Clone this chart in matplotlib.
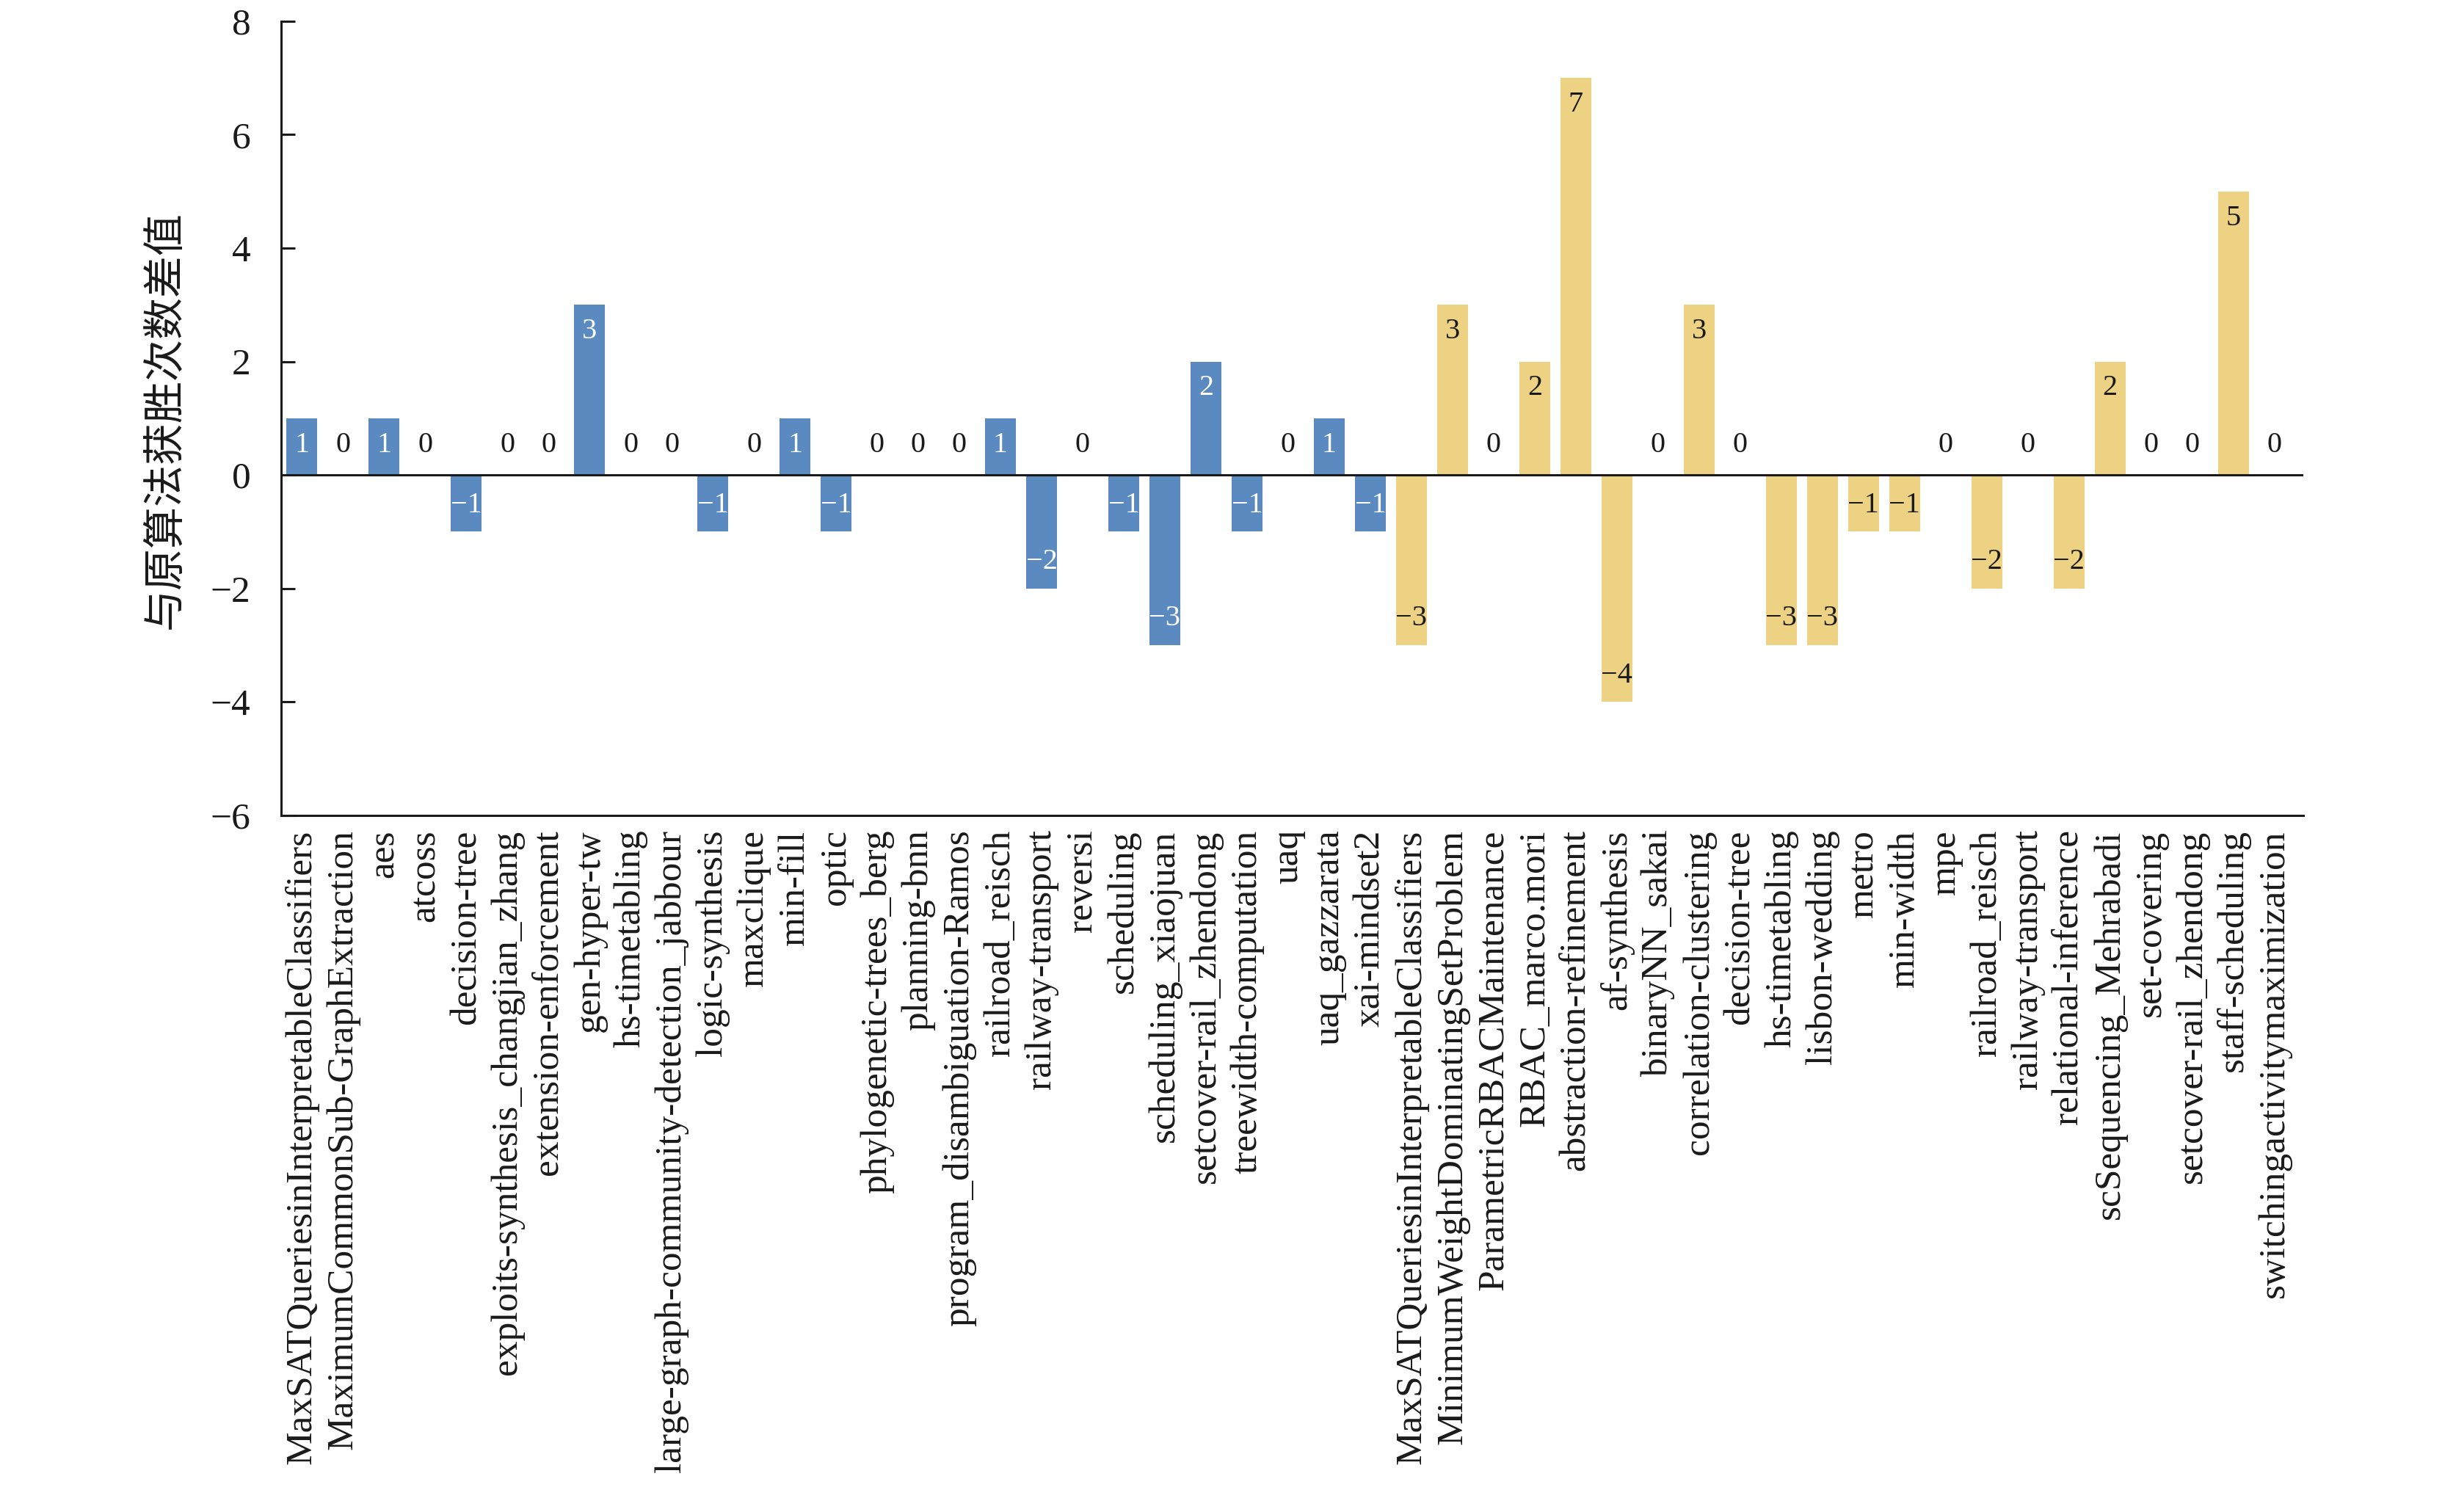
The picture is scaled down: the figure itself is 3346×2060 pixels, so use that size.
import matplotlib
matplotlib.use("Agg")
import matplotlib.pyplot as plt
import numpy as np

plt.rcParams["font.family"] = ["Liberation Serif", "Noto Sans CJK SC"]
plt.rcParams["axes.unicode_minus"] = True

# first group (blue)
blue_names = [
    "MaxSATQueriesinInterpretableClassifiers", "MaximumCommonSub-GraphExtraction",
    "aes", "atcoss", "decision-tree", "exploits-synthesis_changjian_zhang",
    "extension-enforcement", "gen-hyper-tw", "hs-timetabling",
    "large-graph-community-detection_jabbour", "logic-synthesis", "maxclique",
    "min-fill", "optic", "phylogenetic-trees_berg", "planning-bnn",
    "program_disambiguation-Ramos", "railroad_reisch", "railway-transport",
    "reversi", "scheduling", "scheduling_xiaojuan", "setcover-rail_zhendong",
    "treewidth-computation", "uaq", "uaq_gazzarata", "xai-mindset2",
]
blue_values = [1, 0, 1, 0, -1, 0, 0, 3, 0, 0, -1, 0, 1, -1, 0, 0, 0, 1, -2,
               0, -1, -3, 2, -1, 0, 1, -1]

# second group (yellow)
yellow_names = [
    "MaxSATQueriesinInterpretableClassifiers", "MinimumWeightDominatingSetProblem",
    "ParametricRBACMaintenance", "RBAC_marco.mori", "abstraction-refinement",
    "af-synthesis", "binaryNN_sakai", "correlation-clustering", "decision-tree",
    "hs-timetabling", "lisbon-wedding", "metro", "min-width", "mpe",
    "railroad_reisch", "railway-transport", "relational-inference",
    "scSequencing_Mehrabadi", "set-covering", "setcover-rail_zhendong",
    "staff-scheduling", "switchingactivitymaximization",
]
yellow_values = [-3, 3, 0, 2, 7, -4, 0, 3, 0, -3, -3, -1, -1, 0, -2, 0, -2,
                 2, 0, 0, 5, 0]

BLUE = "#5a8ac0"
YELLOW = "#edd283"
INK = "#1a1a1a"

names = blue_names + yellow_names
values = np.array(blue_values + yellow_values)
colors = [BLUE] * len(blue_names) + [YELLOW] * len(yellow_names)
text_colors = ["white"] * len(blue_names) + [INK] * len(yellow_names)
x = np.arange(len(names))

fig = plt.figure(figsize=(33.46, 20.6), dpi=100)
ax = fig.add_axes([0.1145, 0.4607, 0.8233, 0.5253])

ax.bar(x, values, width=0.75, color=colors, zorder=2)
ax.axhline(0, color=INK, lw=2.2, zorder=3)

for xi, v, tc in zip(x, values, text_colors):
    if v == 0:
        ax.text(xi, 0.53, "0", ha="center", va="center", fontsize=29, color=INK, zorder=4)
    else:
        label = str(v).replace("-", "\u2212")
        ax.text(xi, v - np.sign(v) * 0.47, label, ha="center", va="center",
                fontsize=29, color=tc, zorder=4)

ax.set_xlim(-0.5, 48.7)
ax.set_ylim(-6, 8)
ax.set_yticks(np.arange(-6, 9, 2))
ax.set_xticks(x)
ax.set_xticklabels(names, rotation=90, fontsize=37)
ax.tick_params(axis="x", length=0, pad=14, colors=INK)
ax.tick_params(axis="y", direction="in", length=14, width=2.2, pad=30,
               labelsize=37, colors=INK)

for side in ("top", "right"):
    ax.spines[side].set_visible(False)
for side in ("left", "bottom"):
    ax.spines[side].set_linewidth(2.2)
    ax.spines[side].set_color(INK)

fig.text(0.0675, 0.7223, "与原算法获胜次数差值", rotation=90, ha="center", va="center",
         fontsize=41, color=INK)

fig.savefig("out.png", dpi=100)
